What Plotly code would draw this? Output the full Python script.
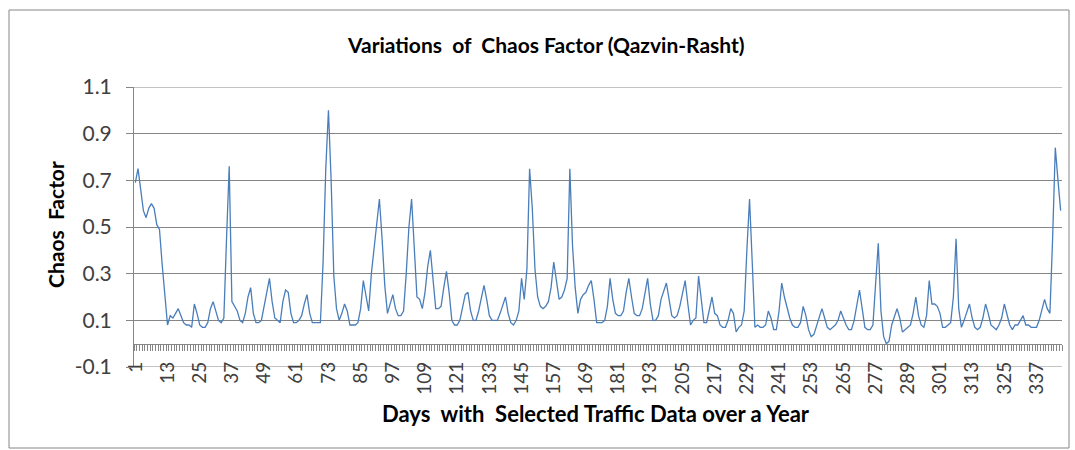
import plotly.graph_objects as go

days = list(range(1, 347))
chaos_factor = [
    0.69, 0.75, 0.66, 0.57, 0.54, 0.58, 0.60, 0.58, 0.51, 0.49,
    0.34, 0.20, 0.08, 0.12, 0.11, 0.13, 0.15, 0.12, 0.09, 0.08,
    0.08, 0.07, 0.17, 0.13, 0.08, 0.07, 0.07, 0.09, 0.15, 0.18,
    0.14, 0.10, 0.09, 0.11, 0.45, 0.76, 0.18, 0.16, 0.14, 0.10,
    0.09, 0.13, 0.20, 0.24, 0.13, 0.09, 0.09, 0.10, 0.16, 0.22,
    0.28, 0.18, 0.11, 0.10, 0.09, 0.18, 0.23, 0.22, 0.13, 0.09,
    0.09, 0.10, 0.12, 0.17, 0.21, 0.13, 0.09, 0.09, 0.09, 0.09,
    0.35, 0.75, 1.00, 0.70, 0.29, 0.15, 0.10, 0.13, 0.17, 0.14,
    0.08, 0.08, 0.08, 0.09, 0.15, 0.27, 0.20, 0.14, 0.30, 0.40,
    0.50, 0.62, 0.45, 0.25, 0.13, 0.17, 0.21, 0.15, 0.12, 0.12,
    0.14, 0.30, 0.50, 0.62, 0.40, 0.20, 0.19, 0.15, 0.22, 0.33,
    0.40, 0.26, 0.15, 0.15, 0.16, 0.24, 0.31, 0.22, 0.10, 0.08,
    0.08, 0.10, 0.16, 0.21, 0.22, 0.14, 0.10, 0.10, 0.14, 0.19,
    0.25, 0.19, 0.12, 0.10, 0.10, 0.10, 0.13, 0.17, 0.20, 0.13,
    0.09, 0.08, 0.10, 0.14, 0.28, 0.19, 0.32, 0.75, 0.58, 0.32,
    0.20, 0.16, 0.15, 0.16, 0.18, 0.24, 0.35, 0.27, 0.19, 0.20,
    0.23, 0.28, 0.75, 0.42, 0.24, 0.13, 0.19, 0.21, 0.22, 0.25,
    0.27, 0.19, 0.09, 0.09, 0.09, 0.10, 0.16, 0.28, 0.19, 0.13,
    0.12, 0.12, 0.14, 0.22, 0.28, 0.20, 0.13, 0.12, 0.12, 0.15,
    0.21, 0.28, 0.17, 0.10, 0.10, 0.12, 0.19, 0.23, 0.26, 0.19,
    0.12, 0.11, 0.12, 0.16, 0.22, 0.27, 0.17, 0.08, 0.10, 0.11,
    0.29, 0.20, 0.09, 0.09, 0.15, 0.20, 0.13, 0.12, 0.08, 0.07,
    0.07, 0.10, 0.15, 0.13, 0.05, 0.07, 0.08, 0.14, 0.40, 0.62,
    0.35, 0.07, 0.08, 0.07, 0.07, 0.08, 0.14, 0.11, 0.06, 0.06,
    0.14, 0.26, 0.20, 0.15, 0.11, 0.08, 0.07, 0.07, 0.09, 0.16,
    0.12, 0.06, 0.03, 0.04, 0.08, 0.11, 0.15, 0.11, 0.07, 0.06,
    0.07, 0.08, 0.10, 0.14, 0.11, 0.08, 0.06, 0.06, 0.10, 0.17,
    0.23, 0.15, 0.07, 0.06, 0.06, 0.08, 0.24, 0.43, 0.14, 0.03,
    0.00, 0.01, 0.08, 0.12, 0.15, 0.11, 0.05, 0.06, 0.07, 0.08,
    0.13, 0.20, 0.12, 0.08, 0.07, 0.12, 0.27, 0.17, 0.17, 0.16,
    0.13, 0.07, 0.07, 0.08, 0.09, 0.20, 0.45, 0.15, 0.07, 0.10,
    0.14, 0.17, 0.11, 0.07, 0.06, 0.07, 0.11, 0.17, 0.13, 0.08,
    0.07, 0.06, 0.08, 0.11, 0.17, 0.12, 0.08, 0.06, 0.08, 0.08,
    0.10, 0.12, 0.08, 0.08, 0.07, 0.07, 0.07, 0.10, 0.15, 0.19,
    0.15, 0.13, 0.45, 0.84, 0.70, 0.57,
]
x_tick_labels = list(range(1, 347, 12))
y_ticks = [-0.1, 0.1, 0.3, 0.5, 0.7, 0.9, 1.1]

title_text = "Variations  of  Chaos Factor (Qazvin-Rasht)"
x_title = "Days  with  Selected Traffic Data over a Year"
y_title = "Chaos  Factor"

FONT = "Lato"
GRAY = "#868686"
TXT = "#404040"

W, H = 1075, 450
L, R, T, B = 134, 1062, 87, 367
pw, ph = R - L, B - T

def px(x):
    return (x - L) / pw

def py(y):
    return (B - y) / ph

fig = go.Figure()
fig.add_trace(go.Scatter(x=days, y=chaos_factor, mode="lines",
                         line=dict(color="#4A7EBB", width=1.3),
                         hoverinfo="skip", showlegend=False))
# invisible trace to hold the category axis drawn at y = 0
fig.add_trace(go.Scatter(x=days, y=chaos_factor, mode="lines", xaxis="x2",
                         line=dict(color="rgba(0,0,0,0)", width=0),
                         hoverinfo="skip", showlegend=False))

n = len(days)
shapes = [dict(type="rect", xref="paper", yref="paper",
               x0=px(9), x1=px(1069), y0=py(448), y1=py(10),
               line=dict(color=GRAY, width=1), fillcolor="rgba(0,0,0,0)",
               layer="below")]
for yv in (y_ticks[0], y_ticks[-1]):
    shapes.append(dict(type="line", xref="paper", yref="y", x0=0, x1=1,
                       y0=yv, y1=yv, line=dict(color=GRAY, width=1),
                       layer="below"))

fig.update_layout(
    width=W, height=H,
    margin=dict(l=L, r=W - R, t=T, b=H - B),
    paper_bgcolor="white", plot_bgcolor="white",
    xaxis=dict(range=[0.5, n + 0.5], tickmode="array", tickvals=x_tick_labels,
               ticktext=[str(v) for v in x_tick_labels], tickangle=-90,
               ticks="", showgrid=False, zeroline=False, showline=False,
               tickfont=dict(family=FONT, size=19, color=TXT),
               ticklabelstandoff=-10),
    xaxis2=dict(range=[0.5, n + 0.5], overlaying="x", anchor="free",
                position=0.1 / 1.2, side="bottom",
                tickmode="linear", tick0=0.5, dtick=1, ticks="outside",
                ticklen=6, tickwidth=1, tickcolor=GRAY,
                showticklabels=False, showgrid=False, zeroline=False,
                showline=True, linecolor=GRAY, linewidth=1),
    yaxis=dict(range=[-0.1, 1.1], tickmode="array", tickvals=y_ticks,
               ticktext=[f"{v:.1f}" for v in y_ticks],
               ticks="outside", ticklen=7, tickcolor=GRAY, tickwidth=1,
               showgrid=True, gridcolor=GRAY, gridwidth=1,
               zeroline=False, showline=True, linecolor=GRAY, linewidth=1,
               tickfont=dict(family=FONT, size=21, color=TXT),
               ticklabelstandoff=10),
    shapes=shapes,
    annotations=[
        dict(text=title_text, xref="paper", yref="paper", x=px(546), y=py(44),
             showarrow=False, xanchor="center", yanchor="middle",
             font=dict(family=FONT, size=21, color="#000000", weight="bold")),
        dict(text=x_title, xref="paper", yref="paper", x=px(596), y=py(413),
             showarrow=False, xanchor="center", yanchor="middle",
             font=dict(family=FONT, size=22, color="#000000", weight="bold")),
        dict(text=y_title, xref="paper", yref="paper", x=px(55), y=py(225),
             showarrow=False, xanchor="center", yanchor="middle", textangle=-90,
             font=dict(family=FONT, size=21, color="#000000", weight="bold")),
    ],
)

fig.write_html("out.html", config={"displayModeBar": False},
               post_script="document.body.style.margin='0';document.body.style.overflow='hidden';")
